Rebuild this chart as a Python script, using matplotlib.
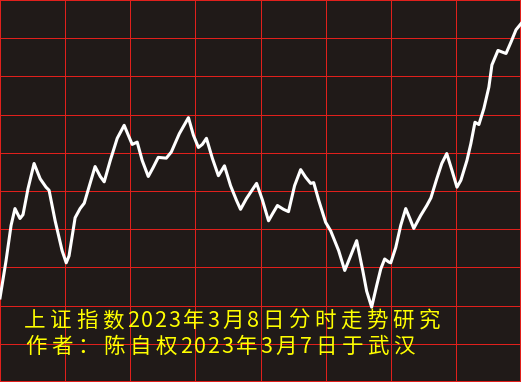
import matplotlib
matplotlib.use("Agg")
import matplotlib.pyplot as plt

# intraday minutes (0-240) and index points
minutes = [0, 2.8, 5.1, 6.9, 8.3, 9.2, 10.6, 12.9, 15.7, 18.5, 21.2, 22.6, 25.4, 28.6,
           30.5, 31.8, 34.6, 36.9, 38.8, 41.5, 43.8, 46.2, 48.0, 50.8, 54.0, 57.2,
           59.1, 60.9, 63.2, 65.5, 68.3, 70.6, 72.9, 76.6, 78.9, 82.6, 86.8, 89.1,
           91.4, 93.2, 95.1, 97.8, 100.6, 103.4, 106.2, 108.9, 110.8, 113.5, 118.2,
           120.9, 123.7, 125.5, 127.8, 130.6, 132.9, 135.7, 138.5, 140.8, 143.1,
           144.5, 146.8, 150.0, 152.3, 156.0, 158.8, 161.5, 164.3, 167.1, 168.9,
           171.2, 173.5, 175.4, 177.2, 179.1, 180.0, 182.3, 184.6, 186.9, 188.8,
           190.6, 193.8, 196.6, 198.5, 201.2, 203.5, 205.8, 208.2, 210.5, 212.3,
           215.1, 216.9, 218.8, 220.6, 222.9, 225.2, 226.6, 229.4, 231.2, 233.1,
           235.4, 237.7, 240]
index_pts = [3251.0, 3255.9, 3260.5, 3262.7, 3261.9, 3261.4, 3261.9, 3265.3, 3268.6,
             3266.6, 3265.5, 3265.1, 3261.1, 3257.2, 3255.6, 3256.5, 3261.5, 3262.7,
             3263.4, 3266.0, 3268.2, 3266.9, 3266.2, 3269.0, 3271.9, 3273.6, 3272.3,
             3271.1, 3271.4, 3269.0, 3266.9, 3268.1, 3269.4, 3269.3, 3270.1, 3272.5,
             3274.6, 3272.3, 3270.7, 3271.1, 3271.9, 3269.3, 3267.0, 3268.3, 3265.7,
             3263.8, 3262.6, 3264.0, 3266.0, 3263.8, 3261.1, 3262.0, 3263.1, 3262.6,
             3262.3, 3265.7, 3267.8, 3266.8, 3266.0, 3266.1, 3263.8, 3260.9, 3259.8,
             3257.2, 3254.6, 3256.5, 3258.5, 3254.6, 3251.9, 3249.8, 3252.6, 3254.8,
             3256.1, 3255.7, 3255.6, 3257.6, 3260.5, 3262.7, 3261.4, 3260.1, 3261.8,
             3263.1, 3264.1, 3266.6, 3268.6, 3269.9, 3267.7, 3265.5, 3266.4, 3269.0,
             3271.2, 3274.0, 3273.7, 3275.8, 3278.6, 3281.5, 3283.4, 3283.2, 3283.0,
             3284.5, 3286.1, 3286.9]

title_lines = ["上证指数2023年3月8日分时走势研究",
               "作者：陈自权2023年3月7日于武汉"]

W, H = 521, 382
bg = "#201a18"
red = "#e0201c"

fig = plt.figure(figsize=(W / 100, H / 100), dpi=100, facecolor=bg)
ax = fig.add_axes([0, 0, 1, 1], facecolor=bg)

ax.plot(minutes, index_pts, color="white", lw=2.2, solid_joinstyle="round", zorder=3)

ax.set_xlim(0, 240)
ax.set_ylim(3240, 3290)
ax.set_xticks(range(0, 241, 30))
ax.set_yticks(range(3240, 3291, 5))
ax.grid(True, color=red, lw=0.7, antialiased=False)
ax.tick_params(length=0, labelbottom=False, labelleft=False)
for sp in ax.spines.values():
    sp.set_color(red)
    sp.set_linewidth(1.4)
    sp.set_antialiased(False)


# draw text char by char to get the fixed-pitch look of the original
def put_line(s, x0, base):
    x = x0
    for ch in s:
        adv = 13.7 if ord(ch) < 128 else 26
        fig.text((x + adv / 2) / W, 1 - base / H, ch, color="#ffff00", fontsize=15.5,
                 family=["Noto Sans CJK SC", "DejaVu Sans"], ha="center", va="baseline")
        x += adv


put_line(title_lines[0], 22, 327)
put_line(title_lines[1], 23, 353)

fig.savefig("out.png", dpi=100, facecolor=bg)
